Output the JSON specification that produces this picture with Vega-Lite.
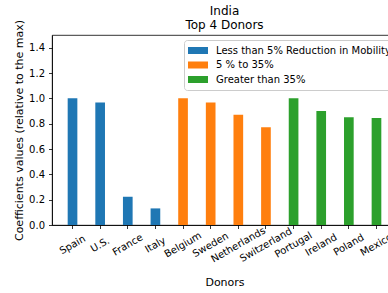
{
  "$schema": "https://vega.github.io/schema/vega-lite/v6.json",
  "autosize": {"type": "none"},
  "padding": {"left": 52, "top": 35, "right": 0, "bottom": 68},
  "width": 345,
  "height": 190,
  "title": {
    "text": ["India", "Top 4 Donors"],
    "anchor": "middle",
    "font": "DejaVu Sans",
    "fontSize": 12,
    "fontWeight": "normal",
    "color": "#000000",
    "lineHeight": 14,
    "offset": 3,
    "dy": 16
  },
  "config": {
    "view": {"stroke": "#000000", "strokeWidth": 0.8},
    "font": "DejaVu Sans"
  },
  "data": {
    "values": [
      {"donor": "Spain", "value": 1.0, "group": "Less than 5% Reduction in  Mobility"},
      {"donor": "U.S.", "value": 0.967, "group": "Less than 5% Reduction in  Mobility"},
      {"donor": "France", "value": 0.223, "group": "Less than 5% Reduction in  Mobility"},
      {"donor": "Italy", "value": 0.131, "group": "Less than 5% Reduction in  Mobility"},
      {"donor": "Belgium", "value": 1.0, "group": "5 % to 35%"},
      {"donor": "Sweden", "value": 0.967, "group": "5 % to 35%"},
      {"donor": "Netherlands", "value": 0.87, "group": "5 % to 35%"},
      {"donor": "Switzerland", "value": 0.771, "group": "5 % to 35%"},
      {"donor": "Portugal", "value": 1.0, "group": "Greater than 35%"},
      {"donor": "Ireland", "value": 0.9, "group": "Greater than 35%"},
      {"donor": "Poland", "value": 0.85, "group": "Greater than 35%"},
      {"donor": "Mexico", "value": 0.845, "group": "Greater than 35%"}
    ]
  },
  "mark": {"type": "bar"},
  "encoding": {
    "x": {
      "field": "donor",
      "type": "nominal",
      "sort": null,
      "scale": {"paddingInner": 0.65, "paddingOuter": 0.5675},
      "axis": {
        "title": "Donors",
        "titleFont": "DejaVu Sans",
        "titleFontSize": 11,
        "titleFontWeight": "normal",
        "titleColor": "#000000",
        "titleBaseline": "alphabetic",
        "titleY": 60,
        "labelAngle": -30,
        "labelAlign": "center",
        "labelBaseline": "middle",
        "labelPadding": 16,
        "labelFontSize": 10,
        "labelColor": "#000000",
        "labelFont": "DejaVu Sans",
        "tickSize": 3.5,
        "tickColor": "#000000",
        "domainColor": "#000000",
        "domainWidth": 0.8,
        "tickWidth": 0.8,
        "labelOverlap": false,
        "grid": false
      }
    },
    "y": {
      "field": "value",
      "type": "quantitative",
      "scale": {"domain": [0, 1.5], "nice": false},
      "axis": {
        "title": "Coefficients values (relative to the max)",
        "titleFont": "DejaVu Sans",
        "titleFontSize": 11,
        "titleFontWeight": "normal",
        "titleColor": "#000000",
        "values": [0, 0.2, 0.4, 0.6, 0.8, 1.0, 1.2, 1.4],
        "format": ".1f",
        "labelFontSize": 10,
        "labelColor": "#000000",
        "labelFont": "DejaVu Sans",
        "labelPadding": 4,
        "tickSize": 3.5,
        "tickColor": "#000000",
        "tickWidth": 0.8,
        "domainColor": "#000000",
        "domainWidth": 0.8,
        "grid": false
      }
    },
    "color": {
      "field": "group",
      "type": "nominal",
      "scale": {
        "domain": ["Less than 5% Reduction in  Mobility", "5 % to 35%", "Greater than 35%"],
        "range": ["#1f77b4", "#ff7f0e", "#2ca02c"]
      },
      "legend": {
        "title": null,
        "orient": "none",
        "legendX": 132,
        "legendY": 5,
        "labelFont": "DejaVu Sans",
        "labelFontSize": 10,
        "labelColor": "#000000",
        "labelLimit": 0,
        "labelOffset": 8,
        "symbolType": "M-1,-0.35h2v0.7h-2Z",
        "symbolSize": 400,
        "symbolStrokeWidth": 0,
        "clipHeight": 13,
        "rowPadding": 1.5,
        "padding": 4,
        "fillColor": "rgba(255,255,255,0.8)",
        "strokeColor": "#cccccc",
        "cornerRadius": 3
      }
    }
  }
}
